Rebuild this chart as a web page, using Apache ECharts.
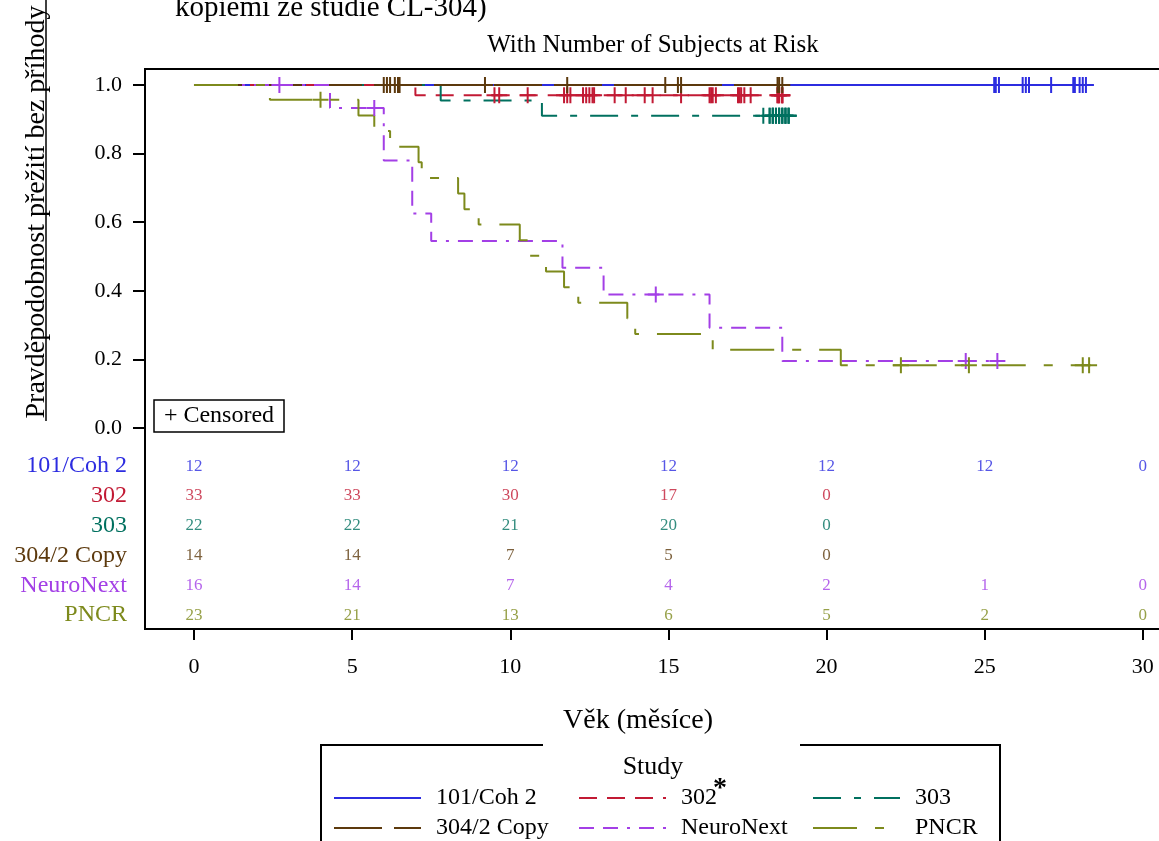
<!DOCTYPE html>
<html>
<head>
<meta charset="utf-8">
<script src="https://cdn.jsdelivr.net/npm/echarts@6/dist/echarts.min.js"></script>
<style>html,body{margin:0;padding:0;background:#fff}#main{width:1159px;height:841px}</style>
</head>
<body>
<div id="main"></div>
<script>
var studies = ['101/Coh 2', '302', '303', '304/2 Copy', 'NeuroNext', 'PNCR'];

// KM steps: [čas, přežití po události], poslední bod = konec sledování
var kmCoh2 = [[0, 1], [28.3, 1]];
var km302 = [[0, 1], [7.0, 0.97], [18.85, 0.97]];
var km303 = [[0, 1], [7.8, 0.955], [11.0, 0.91], [18.85, 0.91]];
var km304 = [[0, 1], [18.85, 1]];
var kmNeuro = [[0, 1], [4.3, 0.933], [6.0, 0.78], [6.9, 0.625], [7.5, 0.545], [11.65, 0.467],
  [12.95, 0.389], [16.3, 0.292], [18.6, 0.195], [25.4, 0.195]];
var kmPncr = [[0, 1], [2.4, 0.957], [5.2, 0.911], [5.7, 0.866], [6.2, 0.82], [7.1, 0.775], [7.2, 0.729],
  [8.35, 0.684], [8.55, 0.638], [9.0, 0.593], [10.3, 0.547], [10.6, 0.502], [11.13, 0.456], [11.7, 0.41],
  [12.15, 0.365], [13.7, 0.319], [13.95, 0.274], [16.4, 0.228], [20.45, 0.183], [28.3, 0.183]];

// cenzurované časy
var cenCoh2 = [25.3, 25.35, 25.45, 26.2, 26.3, 26.4, 27.1, 27.8, 27.85, 28.0, 28.1, 28.2];
var cen302 = [9.5, 9.65, 10.55, 11.7, 11.8, 11.9, 12.3, 12.4, 12.5, 12.6, 12.65, 13.3, 13.65, 14.25, 14.5,
  15.4, 16.3, 16.35, 16.4, 16.5, 17.2, 17.25, 17.3, 17.4, 17.6, 18.45, 18.45, 18.5, 18.5, 18.6, 18.6, 18.6];
var cen303 = [18.0, 18.2, 18.2, 18.3, 18.3, 18.3, 18.4, 18.4, 18.5, 18.5, 18.5, 18.6, 18.6, 18.6,
  18.7, 18.7, 18.7, 18.8, 18.8, 18.8];
var cen304 = [6.0, 6.1, 6.2, 6.35, 6.45, 6.5, 9.2, 11.8, 14.9, 15.3, 15.4, 18.45, 18.5, 18.6];
var cenNeuro = [2.7, 5.7, 14.6, 24.4, 25.4];
var cenPncr = [4.0, 22.35, 24.5, 28.1, 28.3];

// number at risk
var riskTimes = [0, 5, 10, 15, 20, 25, 30];
var riskCoh2 = [12, 12, 12, 12, 12, 12, 0];
var risk302 = [33, 33, 30, 17, 0];
var risk303 = [22, 22, 21, 20, 0];
var risk304 = [14, 14, 7, 5, 0];
var riskNeuro = [16, 14, 7, 4, 2, 1, 0];
var riskPncr = [23, 21, 13, 6, 5, 2, 0];

var xTicks = [0, 5, 10, 15, 20, 25, 30];
var yTicks = [0, 0.2, 0.4, 0.6, 0.8, 1.0];

var colors = ['#2c2ce0', '#c21a34', '#00705f', '#5c390d', '#a33fe6', '#7d8a1c'];
var dashes = ['solid', [18, 10], [28, 13, 7, 13], [48, 12], [15, 9, 15, 9, 3, 9], [44, 18, 9, 18]];
var kms = [kmCoh2, km302, km303, km304, kmNeuro, kmPncr];
var cens = [cenCoh2, cen302, cen303, cen304, cenNeuro, cenPncr];
var risks = [riskCoh2, risk302, risk303, risk304, riskNeuro, riskPncr];

var FONT = '"Liberation Serif", "Times New Roman", serif';
var PLUS = 'path://M7,0H9V16H7Z M0,7H16V9H0Z';

function survAt(km, t){
	var s = km[0][1];
	for(var i=0;i<km.length;i++){
		if(km[i][0] <= t) s = km[i][1];
	}
	return s;
}
function rowPos(i){
	return -0.111 - 0.0869 * i;
}
var rowPositions = studies.map(function(s, i){ return rowPos(i); });

var series = [];
studies.forEach(function(name, i){
	series.push({
		type: 'line', name: name, data: kms[i], step: 'end', symbol: 'none',
		lineStyle: {color: colors[i], width: 2, type: dashes[i]},
		itemStyle: {color: colors[i]}, z: 2, animation: false
	});
});
studies.forEach(function(name, i){
	series.push({
		type: 'scatter', name: name + ' censored', symbol: PLUS, symbolSize: 16,
		data: cens[i].map(function(t){ return [t, survAt(kms[i], t)]; }),
		itemStyle: {color: colors[i], opacity: 1}, z: 3, silent: true, animation: false
	});
});
studies.forEach(function(name, i){
	series.push({
		type: 'scatter', name: name + ' risk', symbolSize: 1,
		data: risks[i].map(function(n, j){ return [riskTimes[j], rowPos(i), n]; }),
		itemStyle: {color: 'rgba(0,0,0,0)'},
		label: {show: true, position: 'inside', formatter: function(p){ return p.data[2]; },
			color: colors[i], fontSize: 17, fontFamily: FONT},
		silent: true, animation: false
	});
});

var rowRich = {};
studies.forEach(function(name, i){
	rowRich['r' + i] = {color: colors[i], fontSize: 24, fontFamily: FONT};
});

var legendPos = [[333, 786], [578, 786], [812, 786], [333, 816], [578, 816], [812, 816]];
var legends = studies.map(function(name, i){
	return {
		data: [name], left: legendPos[i][0], top: legendPos[i][1], padding: 0,
		itemWidth: 87, itemHeight: 14, selectedMode: false,
		itemStyle: {color: 'rgba(0,0,0,0)', borderColor: 'rgba(0,0,0,0)', borderWidth: 0, opacity: 0},
		textStyle: {fontSize: 24, fontFamily: FONT, color: '#000', padding: [0, 0, 0, 10]}
	};
});

var chart = echarts.init(document.getElementById('main'));
chart.setOption({
	backgroundColor: '#fff',
	animation: false,
	legend: legends,
	grid: {left: 145, top: 69, right: -6, bottom: 212, show: true, borderColor: '#000', borderWidth: 2,
		backgroundColor: 'transparent', containLabel: false, outerBoundsMode: 'none'},
	xAxis: {
		type: 'value', min: -1.549, max: 30.7,
		axisLine: {show: false, onZero: false},
		axisTick: {show: true, customValues: xTicks, length: 11, lineStyle: {color: '#000', width: 2}},
		axisLabel: {customValues: xTicks, fontSize: 22, fontFamily: FONT, color: '#000', margin: 27},
		splitLine: {show: false},
		name: 'Věk (měsíce)', nameLocation: 'middle', nameGap: 78,
		nameTextStyle: {fontSize: 28, fontFamily: FONT, color: '#000', padding: [0, 34, 0, 0]}
	},
	yAxis: [{
		type: 'value', min: -0.586, max: 1.0466,
		axisLine: {show: false, onZero: false},
		axisTick: {show: true, customValues: yTicks, length: 12, lineStyle: {color: '#000', width: 2}},
		axisLabel: {customValues: yTicks, fontSize: 22, fontFamily: FONT, color: '#000', margin: 23,
			formatter: function(v){ return v.toFixed(1); }},
		splitLine: {show: false}
	}, {
		type: 'value', min: -0.586, max: 1.0466, position: 'left',
		axisLine: {show: false, onZero: false}, axisTick: {show: false}, splitLine: {show: false},
		axisLabel: {customValues: rowPositions, margin: 18, rich: rowRich,
			formatter: function(v){
				for(var i=0;i<rowPositions.length;i++){
					if(Math.abs(rowPositions[i] - v) < 1e-6) return '{r' + i + '|' + studies[i] + '}';
				}
				return '';
			}}
	}],
	graphic: [
		{type: 'text', x: 175, y: 8, style: {text: 'kopiemi ze studie CL-304)', font: '29px ' + FONT, fill: '#000',
			textAlign: 'left', textVerticalAlign: 'middle', align: 'left', verticalAlign: 'middle'}},
		{type: 'text', x: 653, y: 45, style: {text: 'With Number of Subjects at Risk', font: '25px ' + FONT, fill: '#000',
			textAlign: 'center', textVerticalAlign: 'middle', align: 'center', verticalAlign: 'middle'}},
		{type: 'text', x: 37, y: 212, rotation: Math.PI / 2,
			style: {text: 'Pravděpodobnost přežití bez příhody', font: '28px ' + FONT, fill: '#000',
				textAlign: 'center', textVerticalAlign: 'middle', align: 'center', verticalAlign: 'middle'}},
		{type: 'line', shape: {x1: 46, y1: 0, x2: 46, y2: 421}, style: {stroke: '#000', lineWidth: 1.5}},
		{type: 'rect', shape: {x: 154, y: 400, width: 130, height: 32}, style: {fill: '#fff', stroke: '#000', lineWidth: 1.5}, z: 10},
		{type: 'text', x: 219, y: 416, z: 11, style: {text: '+ Censored', font: '24px ' + FONT, fill: '#000',
			textAlign: 'center', textVerticalAlign: 'middle', align: 'center', verticalAlign: 'middle'}},
		{type: 'polyline', shape: {points: [[543, 745], [321, 745], [321, 845]]}, style: {stroke: '#000', lineWidth: 2, fill: null}},
		{type: 'polyline', shape: {points: [[800, 745], [1000, 745], [1000, 845]]}, style: {stroke: '#000', lineWidth: 2, fill: null}},
		{type: 'text', x: 653, y: 767, style: {text: 'Study', font: '26px ' + FONT, fill: '#000',
			textAlign: 'center', textVerticalAlign: 'middle', align: 'center', verticalAlign: 'middle'}},
		{type: 'text', x: 713, y: 789, style: {text: '*', font: 'bold 28px ' + FONT, fill: '#000',
			textAlign: 'left', textVerticalAlign: 'middle', align: 'left', verticalAlign: 'middle'}}
	],
	series: series
});
</script>
</body>
</html>
